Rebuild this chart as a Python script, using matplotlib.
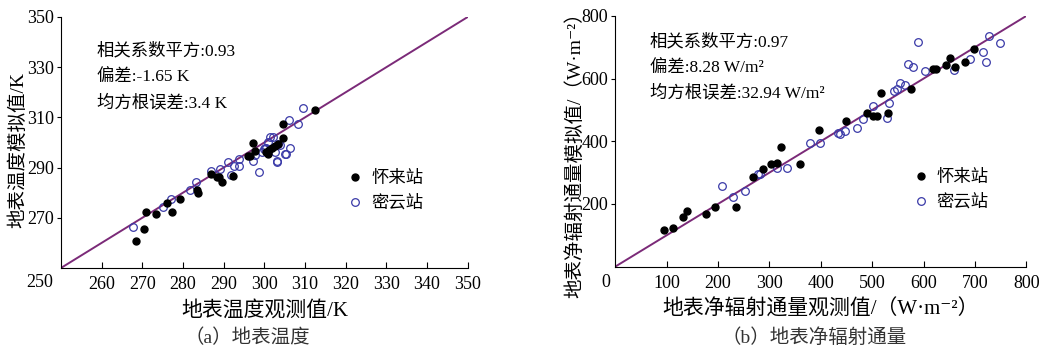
import matplotlib
matplotlib.use("Agg")
import matplotlib.pyplot as plt

# (a) land surface temperature, K
huailai_t_obs = [268.4, 270.5, 270.9, 273.3, 276.0, 277.4, 279.2, 283.5, 283.7, 286.8,
                 288.3, 288.8, 289.6, 292.3, 296.0, 297.2, 297.7, 300.5, 300.9, 301.8,
                 303.4, 304.6, 304.6, 312.4, 302.6, 296.4, 301.1]
huailai_t_sim = [260.9, 265.6, 272.4, 271.5, 276.0, 272.2, 277.3, 280.9, 279.8, 287.5,
                 286.2, 286.4, 284.3, 286.8, 294.8, 299.6, 296.7, 296.1, 295.4, 298.0,
                 299.4, 301.7, 307.5, 312.8, 298.7, 294.8, 297.0]
miyun_t_obs = [267.6, 275.1, 277.0, 281.7, 283.2, 286.8, 289.1, 291.1, 291.9, 292.6,
               293.7, 293.7, 297.1, 297.7, 298.7, 299.4, 300.1, 300.9, 301.4, 302.6,
               303.0, 303.4, 303.8, 305.3, 306.3, 306.0, 308.2, 309.5, 300.5, 299.8,
               302.2, 303.0, 305.2]
miyun_t_sim = [266.4, 274.3, 277.6, 281.2, 284.2, 288.5, 289.5, 292.1, 287.2, 290.8,
               293.4, 290.5, 292.8, 295.1, 288.1, 296.1, 298.0, 300.0, 302.0, 296.1,
               292.1, 299.4, 299.0, 295.4, 298.0, 308.9, 307.5, 313.9, 298.0, 297.4,
               302.0, 292.5, 295.4]

# (b) net radiation, W/m2
huailai_r_obs = [94.7, 111.6, 132.3, 140.1, 176.5, 194.0, 235.0, 267.5, 287.5, 303.1,
                 314.2, 322.0, 359.0, 397.2, 449.2, 489.5, 502.4, 509.0, 516.8, 530.5,
                 575.3, 619.3, 624.6, 644.0, 651.9, 661.6, 681.1, 697.3]
huailai_r_sim = [117.0, 123.5, 157.6, 176.8, 167.2, 189.6, 191.5, 287.3, 311.8, 326.8,
                 330.0, 383.0, 327.8, 436.3, 466.0, 489.6, 481.0, 481.0, 555.4, 491.6,
                 567.2, 630.0, 630.0, 642.8, 667.1, 638.4, 654.4, 693.9]
miyun_r_obs = [207.7, 228.5, 252.5, 278.4, 281.0, 314.2, 333.7, 379.1, 398.6, 434.3,
               437.6, 446.6, 470.1, 481.8, 502.4, 528.5, 533.6, 542.8, 548.0, 554.5,
               564.8, 570.6, 580.4, 588.2, 603.2, 658.3, 689.5, 715.6, 721.4, 726.5,
               747.9]
miyun_r_sim = [257.6, 223.4, 241.6, 295.9, 297.0, 314.0, 316.0, 395.8, 395.8, 425.8,
               422.6, 434.0, 441.7, 470.5, 513.0, 475.6, 523.5, 561.8, 566.2, 585.4,
               580.0, 647.0, 638.4, 717.2, 625.6, 627.9, 662.0, 686.2, 652.4, 737.3,
               715.0]

FONT = ["Liberation Serif", "Noto Sans CJK SC", "DejaVu Serif"]
plt.rcParams["font.family"] = FONT

LINE_COLOR = "#7b2a78"
OPEN_COLOR = "#3a3aa8"
UNIT_R = "（W·m⁻²）"


def style_axes(ax):
    for side in ("top", "right"):
        ax.spines[side].set_visible(False)
    ax.tick_params(axis="x", direction="in", length=4, labelsize=13, pad=6)
    ax.tick_params(axis="y", direction="out", length=3, labelsize=13, pad=2)


def scatter_panel(ax, lim, h_obs, h_sim, m_obs, m_sim):
    ax.plot(lim, lim, color=LINE_COLOR, lw=1.4, zorder=1)
    ax.plot(h_obs, h_sim, "o", color="black", ms=5, label="怀来站", zorder=3)
    ax.plot(m_obs, m_sim, "o", mfc="none", mec=OPEN_COLOR, mew=0.9, ms=5.5,
            label="密云站", zorder=2)
    ax.set_xlim(lim)
    ax.set_ylim(lim)
    style_axes(ax)


fig = plt.figure(figsize=(10.51, 3.54), dpi=100)

ax1 = fig.add_axes([0.058, 0.243, 0.387, 0.709])
scatter_panel(ax1, (250, 350), huailai_t_obs, huailai_t_sim, miyun_t_obs, miyun_t_sim)
ax1.set_xticks(range(260, 351, 10))
ax1.set_yticks(range(270, 351, 20))
ax1.set_xlabel("地表温度观测值/K", fontsize=15)
ax1.set_ylabel("地表温度模拟值/K", fontsize=14)
ax1.xaxis.set_label_coords(0.5, -0.13)
ax1.yaxis.set_label_coords(-0.083, 0.47)
ax1.text(0.088, 0.864, "相关系数平方:0.93", transform=ax1.transAxes, fontsize=12.5, va="center")
ax1.text(0.088, 0.760, "偏差:-1.65 K", transform=ax1.transAxes, fontsize=12.5, va="center")
ax1.text(0.088, 0.656, "均方根误差:3.4 K", transform=ax1.transAxes, fontsize=12.5, va="center")
ax1.legend(loc="center left", bbox_to_anchor=(0.66, 0.305), frameon=False, fontsize=12.5,
           handletextpad=0.3, labelspacing=0.5, handlelength=1.2)

ax2 = fig.add_axes([0.5855, 0.247, 0.391, 0.708])
scatter_panel(ax2, (0, 800), huailai_r_obs, huailai_r_sim, miyun_r_obs, miyun_r_sim)
ax2.set_xticks(range(100, 801, 100))
ax2.set_yticks(range(200, 801, 200))
ax2.set_xlabel("地表净辐射通量观测值/" + UNIT_R, fontsize=15)
ax2.set_ylabel("地表净辐射通量模拟值/" + UNIT_R, fontsize=14)
ax2.xaxis.set_label_coords(0.5, -0.133)
ax2.yaxis.set_label_coords(-0.076, 0.465)
ax2.text(0.084, 0.896, "相关系数平方:0.97", transform=ax2.transAxes, fontsize=12.5, va="center")
ax2.text(0.084, 0.792, "偏差:8.28 W/m²", transform=ax2.transAxes, fontsize=12.5, va="center")
ax2.text(0.084, 0.693, "均方根误差:32.94 W/m²", transform=ax2.transAxes, fontsize=12.5, va="center")
ax2.legend(loc="center left", bbox_to_anchor=(0.68, 0.305), frameon=False, fontsize=12.5,
           handletextpad=0.3, labelspacing=0.5, handlelength=1.2)

# shared corner labels
fig.text(0.038, 0.203, "250", ha="center", va="center", fontsize=13)
fig.text(0.5766, 0.203, "0", ha="center", va="center", fontsize=13)

fig.text(0.235, 0.045, "（a）地表温度", ha="center", va="center", fontsize=14, color="#333333")
fig.text(0.7745, 0.045, "（b）地表净辐射通量", ha="center", va="center", fontsize=14, color="#333333")

fig.savefig("out.png", dpi=100)
